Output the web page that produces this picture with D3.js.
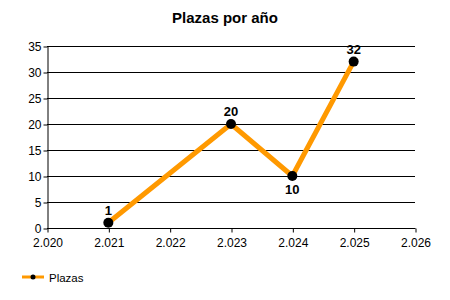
<!DOCTYPE html>
<html><head><meta charset="utf-8">
<script src="https://cdn.jsdelivr.net/npm/d3@7"></script>
<style>body{margin:0;background:#fff}svg{display:block}text{font-family:"Liberation Sans",Arial,sans-serif}</style>
</head><body>
<script>
const years = [2021, 2023, 2024, 2025];
const plazas = [1, 20, 10, 32];
const labelPos = ["above", "above", "below", "above"];
const xTicks = [2020, 2021, 2022, 2023, 2024, 2025, 2026];
const xTickLabels = ["2.020", "2.021", "2.022", "2.023", "2.024", "2.025", "2.026"];
const yTicks = [0, 5, 10, 15, 20, 25, 30, 35];
const title = "Plazas por año";
const seriesName = "Plazas";

const W = 450, H = 300;
const svg = d3.select("body").append("svg").attr("width", W).attr("height", H);
const x = d3.scaleLinear().domain([2020, 2026]).range([47, 415]);
const y = d3.scaleLinear().domain([0, 35]).range([228, 46]);

svg.append("text").attr("x", 225).attr("y", 23).attr("text-anchor", "middle")
  .attr("font-size", 15).attr("font-weight", "bold").attr("fill", "#000").text(title);

// gridlines
svg.append("g").selectAll("line").data(yTicks.filter(d => d > 0)).join("line")
  .attr("x1", 47).attr("x2", 415).attr("y1", d => y(d) + 0.5).attr("y2", d => y(d) + 0.5)
  .attr("stroke", "#000").attr("stroke-width", 1);

const yAxis = svg.append("g").attr("transform", "translate(47.5,0.5)")
  .call(d3.axisLeft(y).tickValues(yTicks).tickSize(4).tickSizeOuter(0).tickPadding(2));
const xAxis = svg.append("g").attr("transform", "translate(0.5,228.5)")
  .call(d3.axisBottom(x).tickValues(xTicks).tickSize(4).tickSizeOuter(0).tickPadding(6)
    .tickFormat((d, i) => xTickLabels[i]));
[yAxis, xAxis].forEach(a => {
  a.selectAll("path,line").attr("stroke", "#000");
  a.selectAll("text").attr("font-size", 12).attr("fill", "#000")
    .attr("font-family", "'Liberation Sans',Arial,sans-serif");
});
xAxis.select(".domain").attr("d", "M" + (47 - 0.5) + ",0H" + 415);

const pts = years.map((d, i) => ({ x: d, y: plazas[i], pos: labelPos[i] }));
svg.append("path").datum(pts)
  .attr("d", d3.line().x(d => x(d.x)).y(d => y(d.y)))
  .attr("fill", "none").attr("stroke", "#FF9900").attr("stroke-width", 5)
  .attr("stroke-linejoin", "miter");
svg.append("g").selectAll("circle").data(pts).join("circle")
  .attr("cx", d => x(d.x)).attr("cy", d => y(d.y)).attr("r", 5).attr("fill", "#000");
svg.append("g").selectAll("text").data(pts).join("text")
  .attr("x", d => x(d.x)).attr("y", d => d.pos === "above" ? y(d.y) - 8 : y(d.y) + 18)
  .attr("text-anchor", "middle").attr("font-size", 13).attr("font-weight", "bold")
  .attr("fill", "#000").text(d => d.y);

// legend
const lg = svg.append("g");
lg.append("line").attr("x1", 22).attr("x2", 44).attr("y1", 277).attr("y2", 277)
  .attr("stroke", "#FF9900").attr("stroke-width", 3);
lg.append("circle").attr("cx", 33).attr("cy", 277).attr("r", 2.5).attr("fill", "#000");
lg.append("text").attr("x", 49).attr("y", 282).attr("font-size", 11.5).attr("fill", "#000").text(seriesName);
</script>
</body></html>
